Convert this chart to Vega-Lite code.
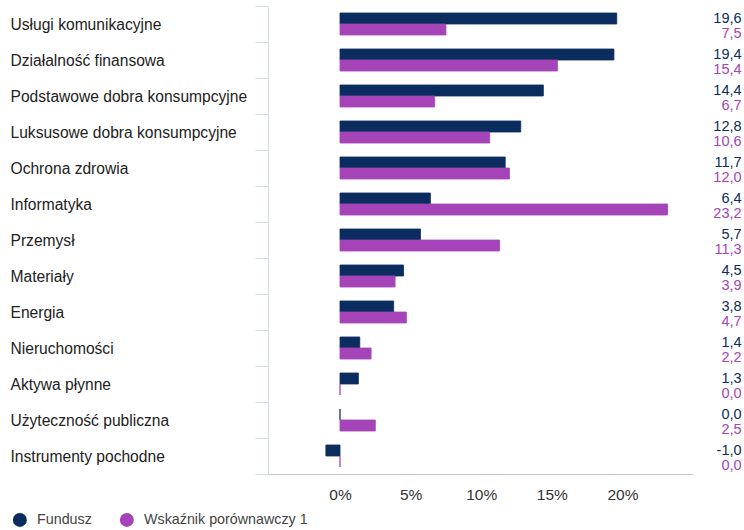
{
  "$schema": "https://vega.github.io/schema/vega-lite/v6.json",
  "width": 425,
  "height": 468,
  "autosize": {"type": "none"},
  "padding": {"left": 268, "top": 6, "right": 51, "bottom": 56},
  "background": "white",
  "config": {
    "view": {"stroke": null},
    "font": "Liberation Sans",
    "locale": {"number": {"decimal": ",", "thousands": " ", "grouping": [3], "currency": ["", " zł"], "minus": "-"}}
  },
  "data": {"values": [
    {"k": "Usługi komunikacyjne", "s": "Fundusz", "v": 19.6},
    {"k": "Usługi komunikacyjne", "s": "Wskaźnik porównawczy 1", "v": 7.5},
    {"k": "Działalność finansowa", "s": "Fundusz", "v": 19.4},
    {"k": "Działalność finansowa", "s": "Wskaźnik porównawczy 1", "v": 15.4},
    {"k": "Podstawowe dobra konsumpcyjne", "s": "Fundusz", "v": 14.4},
    {"k": "Podstawowe dobra konsumpcyjne", "s": "Wskaźnik porównawczy 1", "v": 6.7},
    {"k": "Luksusowe dobra konsumpcyjne", "s": "Fundusz", "v": 12.8},
    {"k": "Luksusowe dobra konsumpcyjne", "s": "Wskaźnik porównawczy 1", "v": 10.6},
    {"k": "Ochrona zdrowia", "s": "Fundusz", "v": 11.7},
    {"k": "Ochrona zdrowia", "s": "Wskaźnik porównawczy 1", "v": 12.0},
    {"k": "Informatyka", "s": "Fundusz", "v": 6.4},
    {"k": "Informatyka", "s": "Wskaźnik porównawczy 1", "v": 23.2},
    {"k": "Przemysł", "s": "Fundusz", "v": 5.7},
    {"k": "Przemysł", "s": "Wskaźnik porównawczy 1", "v": 11.3},
    {"k": "Materiały", "s": "Fundusz", "v": 4.5},
    {"k": "Materiały", "s": "Wskaźnik porównawczy 1", "v": 3.9},
    {"k": "Energia", "s": "Fundusz", "v": 3.8},
    {"k": "Energia", "s": "Wskaźnik porównawczy 1", "v": 4.7},
    {"k": "Nieruchomości", "s": "Fundusz", "v": 1.4},
    {"k": "Nieruchomości", "s": "Wskaźnik porównawczy 1", "v": 2.2},
    {"k": "Aktywa płynne", "s": "Fundusz", "v": 1.3},
    {"k": "Aktywa płynne", "s": "Wskaźnik porównawczy 1", "v": 0.0},
    {"k": "Użyteczność publiczna", "s": "Fundusz", "v": 0.0},
    {"k": "Użyteczność publiczna", "s": "Wskaźnik porównawczy 1", "v": 2.5},
    {"k": "Instrumenty pochodne", "s": "Fundusz", "v": -1.0},
    {"k": "Instrumenty pochodne", "s": "Wskaźnik porównawczy 1", "v": 0.0}
  ]},
  "encoding": {
    "y": {
      "field": "k", "type": "nominal", "sort": null,
      "scale": {"paddingInner": 0, "paddingOuter": 0},
      "axis": {
        "title": null,
        "tickBand": "extent",
        "tickSize": 13,
        "tickColor": "#d3dae8",
        "domainColor": "#d3dae8",
        "labelAlign": "left",
        "labelPadding": 245,
        "labelLimit": 300,
        "labelFontSize": 15.6,
        "labelColor": "#222222",
        "labelFont": "Liberation Sans"
      }
    },
    "yOffset": {
      "field": "s", "type": "nominal",
      "sort": ["Fundusz", "Wskaźnik porównawczy 1"],
      "scale": {"paddingInner": 0, "paddingOuter": 0.636}
    }
  },
  "layer": [
    {
      "mark": {"type": "bar", "strokeWidth": 0.8},
      "encoding": {
        "x": {
          "field": "v", "type": "quantitative",
          "scale": {"domain": [-5.1, 25], "nice": false, "zero": false},
          "axis": {
            "title": null,
            "values": [0, 5, 10, 15, 20],
            "labelExpr": "datum.label + '%'",
            "ticks": false,
            "grid": false,
            "domainColor": "#c8c8c8",
            "labelPadding": 13,
            "labelFontSize": 15.5,
            "labelColor": "#333333"
          }
        },
        "color": {
          "field": "s", "type": "nominal",
          "scale": {"domain": ["Fundusz", "Wskaźnik porównawczy 1"], "range": ["#0a2c5e", "#a444b8"]},
          "legend": {
            "title": null,
            "orient": "none",
            "legendX": -255.3,
            "legendY": 506.5,
            "direction": "horizontal",
            "symbolType": "circle",
            "symbolSize": 196,
            "symbolStrokeWidth": 0,
            "labelFontSize": 14.3,
            "labelLimit": 400,
            "labelColor": "#444444",
            "labelOffset": 10,
            "columnPadding": 27
          }
        },
        "stroke": {
          "field": "s", "type": "nominal",
          "scale": {"domain": ["Fundusz", "Wskaźnik porównawczy 1"], "range": ["#0a2c5e", "#a444b8"]},
          "legend": null
        }
      }
    },
    {
      "transform": [{"filter": "datum.s === 'Fundusz'"}],
      "mark": {"type": "text", "align": "right", "baseline": "middle", "dy": 0.5, "fontSize": 14.5, "color": "#0a2c5e"},
      "encoding": {
        "x": {"datum": 28.44, "type": "quantitative"},
        "text": {"field": "v", "type": "quantitative", "format": ".1f"}
      }
    },
    {
      "transform": [{"filter": "datum.s !== 'Fundusz'"}],
      "mark": {"type": "text", "align": "right", "baseline": "middle", "dy": 4.5, "fontSize": 14.5, "color": "#a444b8"},
      "encoding": {
        "x": {"datum": 28.44, "type": "quantitative"},
        "text": {"field": "v", "type": "quantitative", "format": ".1f"}
      }
    }
  ]
}
